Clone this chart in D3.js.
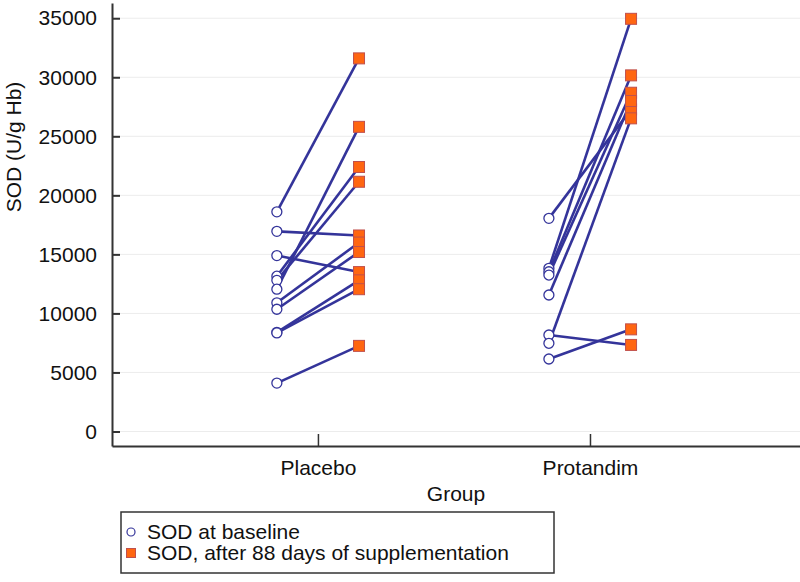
<!DOCTYPE html>
<html>
<head>
<meta charset="utf-8">
<script src="https://cdn.jsdelivr.net/npm/d3@7"></script>
<style>
  html, body { margin: 0; padding: 0; background: #fff; }
  svg { display: block; }
  text { font-family: "Liberation Sans", Arial, sans-serif; fill: #111; }
</style>
</head>
<body>
<div id="chart"></div>
<script>
// ---- data ----
const categories = ["Placebo", "Protandim"];
const yTicks = [0, 5000, 10000, 15000, 20000, 25000, 30000, 35000];
const placeboBaseline = [18600, 16950, 14900, 13150, 12800, 12050, 10900, 10350, 8400, 8350, 4100];
const placeboAfter    = [31600, 16600, 13500, 22400, 21150, 25800, 16000, 15200, 12800, 12050, 7250];
const protandimBaseline = [18050, 13820, 13530, 13250, 11560, 8170, 7470, 6140];
const protandimAfter    = [27280, 34950, 30160, 28690, 27990, 7330, 26520, 8650];
const legendLabels = ["SOD at baseline", "SOD, after 88 days of supplementation"];
const xTitle = "Group";
const yTitle = "SOD (U/g Hb)";

// ---- layout ----
const W = 800, H = 582;
const mLeft = 112, mRight = 800, mTop = 3, mBottom = 446;
const lineColor = "#34349a";
const sqFill = "#ff6611", sqStroke = "#c0504d";
const fs = 21;

const svg = d3.select("#chart").append("svg").attr("width", W).attr("height", H);

const x = d3.scaleLinear().domain([0.243, 2.772]).range([mLeft, mRight]);
const y = d3.scaleLinear().domain([-1230, 36290]).range([mBottom, mTop]);
const off = 0.151;

// gridlines
svg.append("g").selectAll("line").data(yTicks).join("line")
  .attr("x1", mLeft).attr("x2", mRight)
  .attr("y1", d => y(d)).attr("y2", d => y(d))
  .attr("stroke", "#ececec").attr("stroke-width", 1);

// y axis
const yAxis = d3.axisLeft(y).tickValues(yTicks).tickSize(-8).tickSizeOuter(0).tickPadding(15)
  .tickFormat(d3.format("d"));
const gy = svg.append("g").attr("transform", `translate(${mLeft},0)`).call(yAxis);
gy.select(".domain").attr("stroke", "#333").attr("stroke-width", 2);
gy.selectAll(".tick line").attr("stroke", "#333").attr("stroke-width", 2);
gy.selectAll(".tick text").attr("font-size", fs).attr("font-family", "Liberation Sans, Arial, sans-serif").attr("fill", "#111");

// x axis
const xAxis = d3.axisBottom(x).tickValues([1, 2]).tickSize(-12).tickSizeOuter(0).tickPadding(14)
  .tickFormat(d => categories[d - 1]);
const gx = svg.append("g").attr("transform", `translate(0,${mBottom})`).call(xAxis);
gx.select(".domain").attr("stroke", "#333").attr("stroke-width", 2);
gx.selectAll(".tick line").attr("stroke", "#333").attr("stroke-width", 1.5);
gx.selectAll(".tick text").attr("font-size", fs).attr("font-family", "Liberation Sans, Arial, sans-serif").attr("fill", "#111");

// axis titles
svg.append("text").attr("x", (mLeft + mRight) / 2).attr("y", 501)
  .attr("text-anchor", "middle").attr("font-size", fs).text(xTitle);
svg.append("text").attr("transform", `translate(21,147) rotate(-90)`)
  .attr("text-anchor", "middle").attr("font-size", fs).text(yTitle);

// paired data
const groups = [
  { pos: 1, base: placeboBaseline, after: placeboAfter },
  { pos: 2, base: protandimBaseline, after: protandimAfter }
];
const pairs = [];
groups.forEach(g => g.base.forEach((b, i) => pairs.push({ pos: g.pos, b, a: g.after[i] })));

const plot = svg.append("g");
plot.selectAll("line.pair").data(pairs).join("line").attr("class", "pair")
  .attr("x1", d => x(d.pos - off)).attr("y1", d => y(d.b))
  .attr("x2", d => x(d.pos + off)).attr("y2", d => y(d.a))
  .attr("stroke", lineColor).attr("stroke-width", 2.6);

plot.selectAll("circle.base").data(pairs).join("circle").attr("class", "base")
  .attr("cx", d => x(d.pos - off)).attr("cy", d => y(d.b)).attr("r", 5)
  .attr("fill", "#fff").attr("stroke", lineColor).attr("stroke-width", 1.3);

const s = 11;
plot.selectAll("rect.after").data(pairs).join("rect").attr("class", "after")
  .attr("x", d => x(d.pos + off) - s / 2).attr("y", d => y(d.a) - s / 2)
  .attr("width", s).attr("height", s)
  .attr("fill", sqFill).attr("stroke", sqStroke).attr("stroke-width", 1);

// legend
const lg = svg.append("g");
lg.append("rect").attr("x", 121).attr("y", 512).attr("width", 433).attr("height", 61)
  .attr("fill", "#fff").attr("stroke", "#333").attr("stroke-width", 1.5);
lg.append("circle").attr("cx", 131).attr("cy", 532).attr("r", 4)
  .attr("fill", "#fff").attr("stroke", lineColor).attr("stroke-width", 1.2);
lg.append("rect").attr("x", 126.5).attr("y", 548.5).attr("width", 9).attr("height", 9)
  .attr("fill", sqFill).attr("stroke", sqStroke).attr("stroke-width", 1);
lg.selectAll("text").data(legendLabels).join("text")
  .attr("x", 147).attr("y", (d, i) => 539 + i * 21)
  .attr("font-size", fs).text(d => d);
</script>
</body>
</html>
